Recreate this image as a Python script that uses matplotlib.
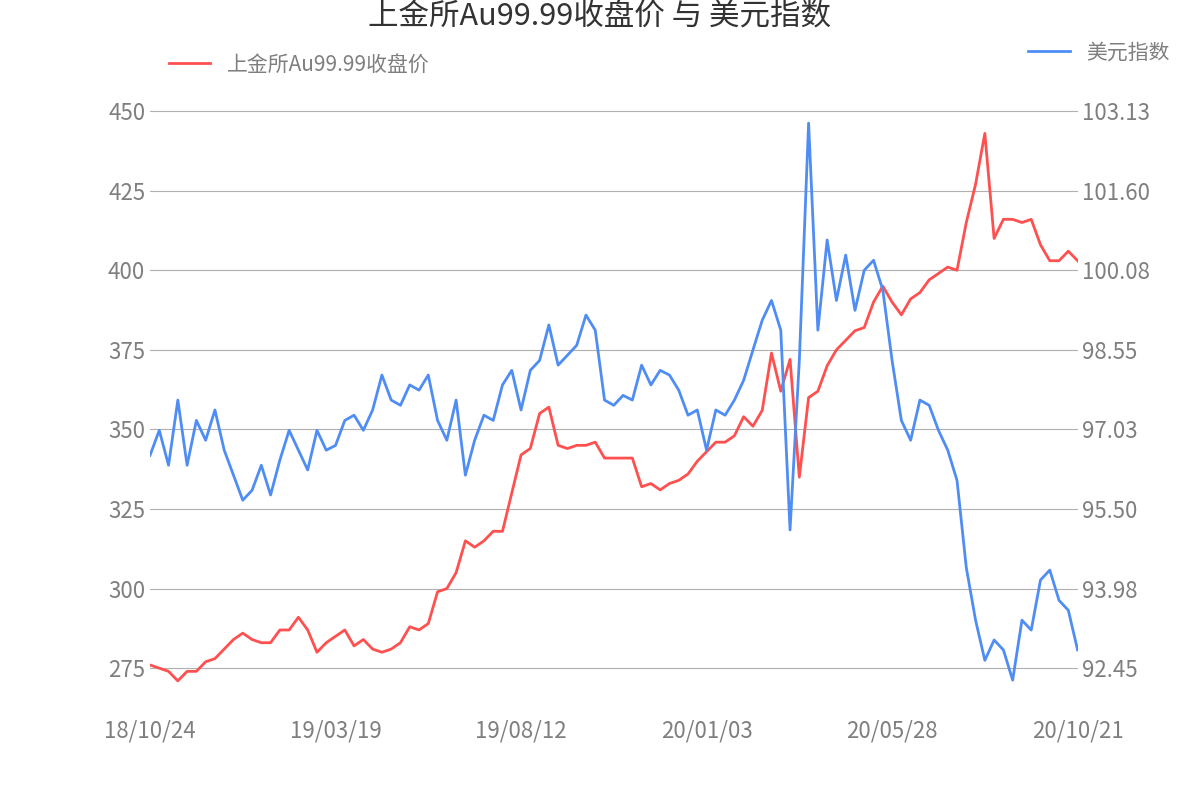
import matplotlib.pyplot as plt

plt.rcParams['font.family'] = ['Noto Sans CJK SC', 'DejaVu Sans']

# 上金所Au99.99收盘价 (左轴)
gold = [276, 275, 274, 271, 274, 274, 277, 278, 281, 284,
        286, 284, 283, 283, 287, 287, 291, 287, 280, 283,
        285, 287, 282, 284, 281, 280, 281, 283, 288, 287,
        289, 299, 300, 305, 315, 313, 315, 318, 318, 330,
        342, 344, 355, 357, 345, 344, 345, 345, 346, 341,
        341, 341, 341, 332, 333, 331, 333, 334, 336, 340,
        343, 346, 346, 348, 354, 351, 356, 374, 362, 372,
        335, 360, 362, 370, 375, 378, 381, 382, 390, 395,
        390, 386, 391, 393, 397, 399, 401, 400, 415, 427,
        443, 410, 416, 416, 415, 416, 408, 403, 403, 406, 403]

# 美元指数 (右轴)
usd = [96.53, 97.01, 96.34, 97.59, 96.34, 97.20, 96.82, 97.40, 96.63, 96.15,
       95.67, 95.86, 96.34, 95.77, 96.44, 97.01, 96.63, 96.25, 97.01, 96.63,
       96.72, 97.20, 97.30, 97.01, 97.40, 98.07, 97.59, 97.49, 97.88, 97.78,
       98.07, 97.20, 96.82, 97.59, 96.15, 96.82, 97.30, 97.20, 97.88, 98.16,
       97.40, 98.16, 98.35, 99.03, 98.26, 98.45, 98.64, 99.22, 98.93, 97.59,
       97.49, 97.68, 97.59, 98.26, 97.88, 98.16, 98.07, 97.78, 97.30, 97.40,
       96.63, 97.40, 97.30, 97.59, 97.97, 98.55, 99.12, 99.50, 98.93, 95.10,
       98.35, 102.90, 98.93, 100.66, 99.50, 100.37, 99.31, 100.08, 100.27, 99.70,
       98.35, 97.20, 96.82, 97.59, 97.49, 97.01, 96.63, 96.05, 94.38, 93.37,
       92.60, 92.99, 92.80, 92.22, 93.37, 93.18, 94.14, 94.33, 93.75, 93.56, 92.80]

date_labels = ['18/10/24', '19/03/19', '19/08/12', '20/01/03', '20/05/28', '20/10/21']
left_ticks = [275, 300, 325, 350, 375, 400, 425, 450]
right_labels = ['92.45', '93.98', '95.50', '97.03', '98.55', '100.08', '101.60', '103.13']

grey = '#7f7f7f'
red = '#ff5050'
blue = '#4f8df5'

fig = plt.figure(figsize=(12, 8), dpi=100)
ax = fig.add_axes([0.125, 0.125, 0.773, 0.756])
ax2 = ax.twinx()

x = list(range(len(gold)))
ax.plot(x, gold, color=red, lw=2, label='上金所Au99.99收盘价')
ax2.plot(x, usd, color=blue, lw=2, label='美元指数')

ylo, yhi = 265, 455
ax.set_ylim(ylo, yhi)
conv = lambda v: 92.45 + (v - 275) * (103.13 - 92.45) / 175
ax2.set_ylim(conv(ylo), conv(yhi))
ax.set_xlim(0, len(gold) - 1)

ax.set_yticks(left_ticks)
ax2.set_yticks([conv(v) for v in left_ticks])
ax2.set_yticklabels(right_labels)
ax.set_xticks([0, 20, 40, 60, 80, 100])
ax.set_xticklabels(date_labels)

ax.grid(axis='y', color='#b0b0b0', lw=0.8)
for a in (ax, ax2):
    for s in a.spines.values():
        s.set_visible(False)
    a.tick_params(length=0, labelsize=16, labelcolor=grey)
ax.tick_params(axis='x', pad=14)

fig.text(0.5, 0.98, '上金所Au99.99收盘价 与 美元指数', ha='center', va='center',
         fontsize=22, color='#333333')
ax.legend(loc='upper left', bbox_to_anchor=(0.0, 1.1), frameon=False,
          fontsize=15, labelcolor=grey)
ax2.legend(loc='upper right', bbox_to_anchor=(1.12, 1.12), frameon=False,
           fontsize=15, labelcolor=grey)

fig.savefig('out.png')
